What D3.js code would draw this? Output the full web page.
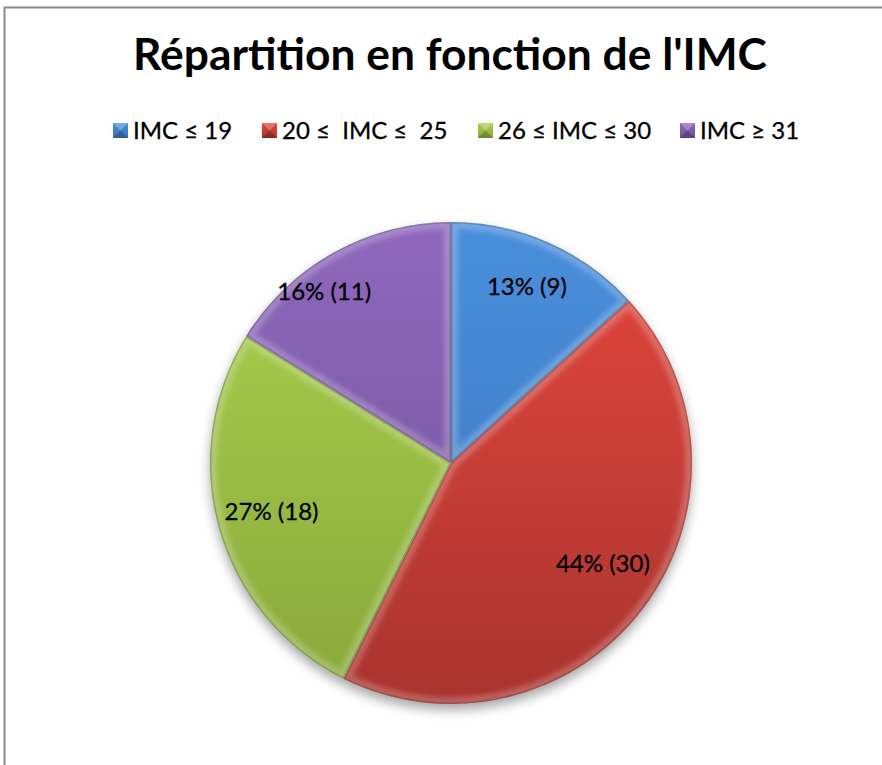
<!DOCTYPE html>
<html>
<head>
<meta charset="utf-8">
<script src="https://cdn.jsdelivr.net/npm/d3@7"></script>
<style>
  html, body { margin: 0; padding: 0; background: #fff; overflow: hidden; }
  text { font-family: Lato, "Open Sans", sans-serif; }
</style>
</head>
<body>
<div id="chart"></div>
<script>
// données
var categories = ["IMC \u2264 19", "20 \u2264  IMC \u2264  25", "26 \u2264 IMC \u2264 30", "IMC \u2265 31"];
var counts = [9, 30, 18, 11];
var percents = [13, 44, 27, 16];
var title = "R\u00e9partition en fonction de l'IMC";

var width = 882, height = 765;
var colorsTop = ["#4a8fdc", "#e4483f", "#abd24e", "#8f68bd"];
var colorsBot = ["#3a73b8", "#a9332e", "#88a83b", "#6f5196"];

var svg = d3.select("#chart").append("svg")
    .attr("width", width)
    .attr("height", height);

var defs = svg.append("defs");

//cadre
svg.append("rect")
    .attr("x", 4.5)
    .attr("y", 7.5)
    .attr("width", width + 20)
    .attr("height", height + 20)
    .attr("fill", "#fff")
    .attr("stroke", "#8a8a8a")
    .attr("stroke-width", 2);

//titre
var gTitle = svg.append("text")
    .attr("x", 450)
    .attr("y", 70)
    .attr("font-weight", "bold")
    .attr("font-size", 44)
    .attr("fill", "#000")
    .style("text-anchor", "middle")
    .text(title);
// ajuster la taille pour la largeur du titre original
var tw = gTitle.node().getComputedTextLength();
gTitle.attr("font-size", 44 * 634 / tw);

//légende
var legendX = [113, 262, 478, 680];
var gLegend = svg.append("g").attr("class", "legend");
categories.forEach(function (c, i) {
    var grad = defs.append("linearGradient")
        .attr("id", "lg" + i)
        .attr("x1", 0).attr("y1", 0).attr("x2", 0).attr("y2", 1);
    grad.append("stop").attr("offset", "0%").attr("stop-color", colorsTop[i]);
    grad.append("stop").attr("offset", "100%").attr("stop-color", colorsBot[i]);

    var g = gLegend.append("g").attr("transform", "translate(" + legendX[i] + ",123)");
    g.append("rect")
        .attr("width", 15).attr("height", 15)
        .attr("fill", "url(#lg" + i + ")");
    // petite pyramide (biseau)
    g.append("path")
        .attr("d", "M0,0L15,0L7.5,7.5Z")
        .attr("fill", "#fff").attr("opacity", 0.25);
    g.append("path")
        .attr("d", "M0,15L15,15L7.5,7.5Z")
        .attr("fill", "#000").attr("opacity", 0.2);
    g.append("text")
        .attr("x", 20)
        .attr("y", 16)
        .attr("font-size", 24)
        .attr("fill", "#000")
        .attr("stroke", "#000")
        .attr("stroke-width", 0.3)
        .style("white-space", "pre")
        .attr("xml:space", "preserve")
        .text(c);
});

//camembert
var cx = 451, cy = 463, radius = 241;
var data = categories.map(function (c, i) {
    return {name: c, count: counts[i], pct: percents[i], i: i};
});

var pie = d3.pie().sort(null).value(function (d) { return d.count; });
var arc = d3.arc().innerRadius(0).outerRadius(radius);
var labelArc = d3.arc().innerRadius(radius * 0.8).outerRadius(radius * 0.8);
var arcs = pie(data);

// ombre
var shadow = defs.append("filter").attr("id", "shadow")
    .attr("x", "-20%").attr("y", "-20%").attr("width", "140%").attr("height", "140%");
shadow.append("feGaussianBlur").attr("stdDeviation", 6);

var blur = defs.append("filter").attr("id", "soft")
    .attr("x", "-20%").attr("y", "-20%").attr("width", "140%").attr("height", "140%");
blur.append("feGaussianBlur").attr("stdDeviation", 2.5);

var gPie = svg.append("g").attr("transform", "translate(" + cx + "," + cy + ")");

gPie.append("circle")
    .attr("cx", 0).attr("cy", 6).attr("r", radius)
    .attr("fill", "#000").attr("opacity", 0.35)
    .attr("filter", "url(#shadow)");

arcs.forEach(function (a) {
    var i = a.data.i;
    var grad = defs.append("linearGradient")
        .attr("id", "pg" + i)
        .attr("gradientUnits", "userSpaceOnUse")
        .attr("x1", 0).attr("y1", -radius).attr("x2", 0).attr("y2", radius);
    grad.append("stop").attr("offset", "0%").attr("stop-color", colorsTop[i]);
    grad.append("stop").attr("offset", "100%").attr("stop-color", colorsBot[i]);

    defs.append("clipPath").attr("id", "clip" + i)
        .append("path").attr("d", arc(a));
});

var slices = gPie.selectAll(".slice")
    .data(arcs)
    .enter().append("g")
    .attr("class", "slice");

slices.append("path")
    .attr("d", arc)
    .attr("fill", function (d) { return "url(#pg" + d.data.i + ")"; });

// biseau : bande claire le long des bords
slices.append("path")
    .attr("d", arc)
    .attr("clip-path", function (d) { return "url(#clip" + d.data.i + ")"; })
    .attr("fill", "none")
    .attr("stroke", "#fff")
    .attr("stroke-opacity", 0.22)
    .attr("stroke-width", 14)
    .attr("stroke-linejoin", "round")
    .attr("filter", "url(#soft)");

slices.append("path")
    .attr("d", arc)
    .attr("clip-path", function (d) { return "url(#clip" + d.data.i + ")"; })
    .attr("fill", "none")
    .attr("stroke", "#000")
    .attr("stroke-opacity", 0.18)
    .attr("stroke-width", 3);

// étiquettes
var labelNudge = [[-2, 0], [-2, -16], [6, -4], [-33, -3]];
gPie.selectAll(".label")
    .data(arcs)
    .enter().append("text")
    .attr("class", "label")
    .attr("transform", function (d) {
        var c = labelArc.centroid(d);
        var n = labelNudge[d.data.i];
        return "translate(" + (c[0] + n[0]) + "," + (c[1] + n[1]) + ")";
    })
    .attr("dy", "0.35em")
    .attr("font-size", 24)
    .attr("fill", "#000")
    .attr("stroke", "#000")
    .attr("stroke-width", 0.3)
    .style("text-anchor", "middle")
    .text(function (d) { return d.data.pct + "% (" + d.data.count + ")"; });
</script>
</body>
</html>
